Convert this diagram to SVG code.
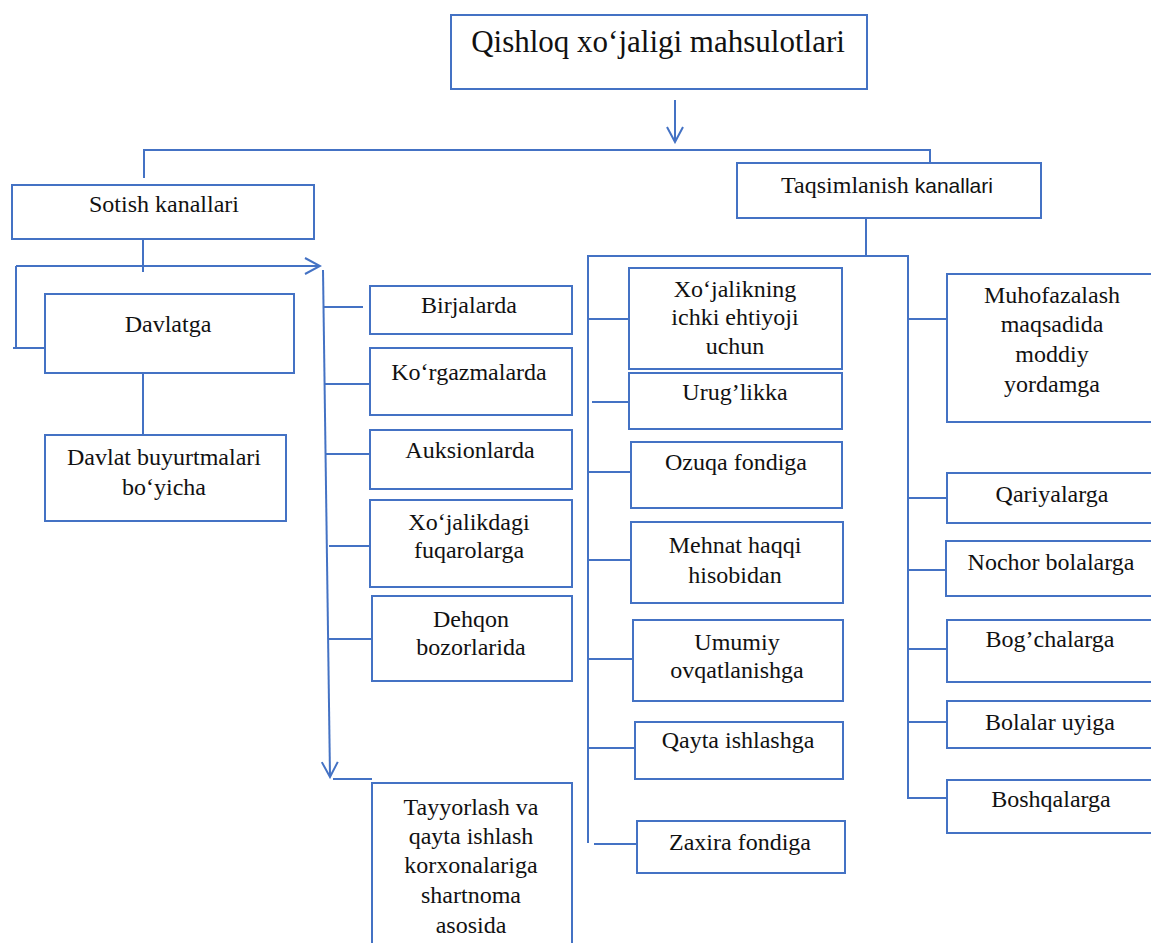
<svg xmlns="http://www.w3.org/2000/svg" width="1151" height="943" viewBox="0 0 1151 943">
<style>
.box{fill:#fff;stroke:#4472C4;stroke-width:2}
.ln{fill:none;stroke:#4472C4;stroke-width:2}
.t{font-family:'Liberation Serif','Times New Roman',serif;font-size:24px;fill:#111;text-anchor:middle}
.title{font-size:31px}
.sans{font-family:'Liberation Sans',Arial,sans-serif;font-size:21px}
</style>
<defs>
<marker id="arr" viewBox="-16 -10 18 20" refX="0" refY="0" markerWidth="18" markerHeight="20" markerUnits="userSpaceOnUse" orient="auto">
<path d="M-15,-8 L0,0 L-15,8" fill="none" stroke="#4472C4" stroke-width="2"/>
</marker>
</defs>
<rect width="1151" height="943" fill="#fff"/>
<g id="connectors">
<line class="ln" x1="675" y1="100" x2="675" y2="142" marker-end="url(#arr)"/>
<polyline class="ln" points="144,178 144,150 930,150 930,163"/>
<line class="ln" x1="143" y1="240" x2="143" y2="272"/>
<line class="ln" x1="16" y1="266" x2="320" y2="266" marker-end="url(#arr)"/>
<line class="ln" x1="16" y1="266" x2="16" y2="348"/>
<line class="ln" x1="13" y1="348" x2="45" y2="348"/>
<line class="ln" x1="143" y1="373" x2="143" y2="435"/>
<line class="ln" x1="323" y1="270" x2="330" y2="777" marker-end="url(#arr)"/>
<line class="ln" x1="333" y1="779" x2="372" y2="779"/>
<line class="ln" x1="323.5" y1="307" x2="363" y2="307"/>
<line class="ln" x1="324.6" y1="384" x2="370" y2="384"/>
<line class="ln" x1="325.5" y1="454" x2="370" y2="454"/>
<line class="ln" x1="329" y1="546" x2="370" y2="546"/>
<line class="ln" x1="328" y1="639" x2="372" y2="639"/>
<line class="ln" x1="866" y1="218" x2="866" y2="256"/>
<line class="ln" x1="587" y1="256" x2="909" y2="256"/>
<line class="ln" x1="588" y1="256" x2="588" y2="843"/>
<line class="ln" x1="588" y1="319" x2="629" y2="319"/>
<line class="ln" x1="592" y1="402" x2="629" y2="402"/>
<line class="ln" x1="588" y1="472" x2="631" y2="472"/>
<line class="ln" x1="588" y1="560" x2="631" y2="560"/>
<line class="ln" x1="588" y1="659" x2="633" y2="659"/>
<line class="ln" x1="588" y1="748" x2="635" y2="748"/>
<line class="ln" x1="594" y1="844" x2="637" y2="844"/>
<polyline class="ln" points="908,256 908,798 947,798"/>
<line class="ln" x1="908" y1="319" x2="947" y2="319"/>
<line class="ln" x1="908" y1="498" x2="947" y2="498"/>
<line class="ln" x1="908" y1="570" x2="946" y2="570"/>
<line class="ln" x1="908" y1="649" x2="947" y2="649"/>
<line class="ln" x1="908" y1="722" x2="947" y2="722"/>
</g>
<g id="n-title"><rect class="box" x="451" y="15" width="416" height="74"/><text class="t title" x="658" y="52">Qishloq xo‘jaligi mahsulotlari</text></g>
<g id="n-sotish"><rect class="box" x="12" y="185" width="302" height="54"/><text class="t" x="164" y="212">Sotish kanallari</text></g>
<g id="n-taqsim"><rect class="box" x="737" y="163" width="304" height="55"/><text class="t" x="887" y="193">Taqsimlanish <tspan class="sans">kanallari</tspan></text></g>
<g id="n-davlatga"><rect class="box" x="45" y="294" width="249" height="79"/><text class="t" x="168" y="332">Davlatga</text></g>
<g id="n-davlatbuy"><rect class="box" x="45" y="435" width="241" height="86"/><text class="t" x="164" y="465">Davlat buyurtmalari</text><text class="t" x="164" y="495">bo‘yicha</text></g>
<g id="n-birja"><rect class="box" x="370" y="286" width="202" height="48"/><text class="t" x="469" y="313">Birjalarda</text></g>
<g id="n-korgazma"><rect class="box" x="370" y="348" width="202" height="67"/><text class="t" x="469" y="380">Ko‘rgazmalarda</text></g>
<g id="n-auksion"><rect class="box" x="370" y="430" width="202" height="59"/><text class="t" x="470" y="458">Auksionlarda</text></g>
<g id="n-xojalikdagi"><rect class="box" x="370" y="500" width="202" height="87"/><text class="t" x="469" y="530">Xo‘jalikdagi</text><text class="t" x="469" y="558">fuqarolarga</text></g>
<g id="n-dehqon"><rect class="box" x="372" y="596" width="200" height="85"/><text class="t" x="471" y="627">Dehqon</text><text class="t" x="471" y="655">bozorlarida</text></g>
<g id="n-tayyorlash"><rect class="box" x="372" y="783" width="200" height="175"/><text class="t" x="471" y="815">Tayyorlash va</text><text class="t" x="471" y="844">qayta ishlash</text><text class="t" x="471" y="873">korxonalariga</text><text class="t" x="471" y="903">shartnoma</text><text class="t" x="471" y="933">asosida</text></g>
<g id="n-xojalikning"><rect class="box" x="629" y="268" width="213" height="101"/><text class="t" x="735" y="297">Xo‘jalikning</text><text class="t" x="735" y="325">ichki ehtiyoji</text><text class="t" x="735" y="354">uchun</text></g>
<g id="n-urug"><rect class="box" x="629" y="373" width="213" height="56"/><text class="t" x="735" y="400">Urug’likka</text></g>
<g id="n-ozuqa"><rect class="box" x="631" y="442" width="211" height="66"/><text class="t" x="736" y="470">Ozuqa fondiga</text></g>
<g id="n-mehnat"><rect class="box" x="631" y="522" width="212" height="81"/><text class="t" x="735" y="553">Mehnat haqqi</text><text class="t" x="735" y="583">hisobidan</text></g>
<g id="n-umumiy"><rect class="box" x="633" y="620" width="210" height="81"/><text class="t" x="737" y="650">Umumiy</text><text class="t" x="737" y="678">ovqatlanishga</text></g>
<g id="n-qayta"><rect class="box" x="635" y="722" width="208" height="57"/><text class="t" x="738" y="748">Qayta ishlashga</text></g>
<g id="n-zaxira"><rect class="box" x="637" y="821" width="208" height="52"/><text class="t" x="740" y="850">Zaxira fondiga</text></g>
<g id="n-muhofaza"><rect class="box" x="947" y="274" width="220" height="148"/><text class="t" x="1052" y="303">Muhofazalash</text><text class="t" x="1052" y="332">maqsadida</text><text class="t" x="1052" y="362">moddiy</text><text class="t" x="1052" y="392">yordamga</text></g>
<g id="n-qariya"><rect class="box" x="947" y="473" width="220" height="50"/><text class="t" x="1052" y="502">Qariyalarga</text></g>
<g id="n-nochor"><rect class="box" x="946" y="541" width="220" height="55"/><text class="t" x="1051" y="570">Nochor bolalarga</text></g>
<g id="n-bogcha"><rect class="box" x="947" y="620" width="220" height="62"/><text class="t" x="1050" y="647">Bog’chalarga</text></g>
<g id="n-bolalar"><rect class="box" x="947" y="701" width="220" height="47"/><text class="t" x="1050" y="730">Bolalar uyiga</text></g>
<g id="n-boshqa"><rect class="box" x="947" y="780" width="220" height="53"/><text class="t" x="1051" y="807">Boshqalarga</text></g>
</svg>
